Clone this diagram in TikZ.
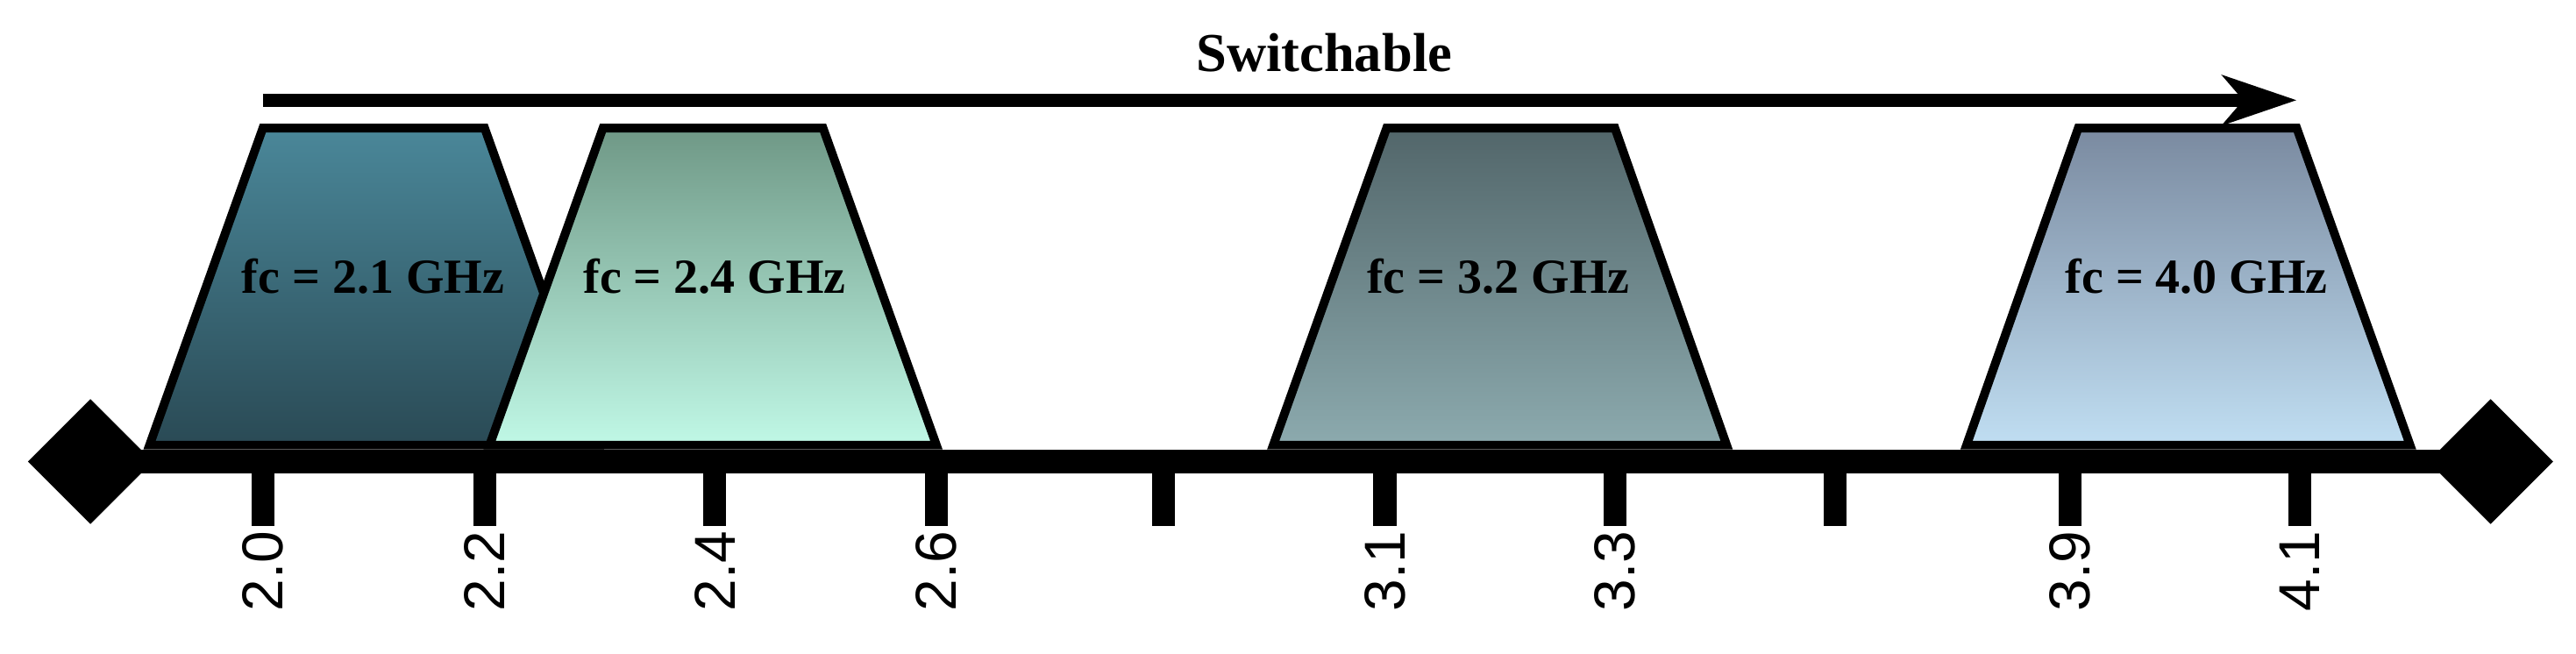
\documentclass[tikz,border=0pt]{standalone}
\usepackage{fontspec}
\setmainfont{Liberation Serif}
\newfontfamily\ticksf{Liberation Sans}
\usetikzlibrary{arrows.meta}
\definecolor{aT}{HTML}{4A8799}\definecolor{aB}{HTML}{2A4A55}
\definecolor{bT}{HTML}{6F9886}\definecolor{bB}{HTML}{C0F8E6}
\definecolor{cT}{HTML}{52666A}\definecolor{cB}{HTML}{8CAAAE}
\definecolor{dT}{HTML}{7A8AA0}\definecolor{dB}{HTML}{C0DEF2}
\tikzset{
 trap/.style={draw=black,line width=3pt,line join=miter},
 flabel/.style={font=\fontsize{17}{20}\selectfont\bfseries,inner sep=0pt},
 tick/.style={line width=14\pgflinewidth*0+0.28cm,line cap=butt},
 ticklab/.style={font=\ticksf\fontsize{20}{22}\selectfont,rotate=90,anchor=east,inner sep=0pt},
 dia/.style={fill=black}
}
\begin{document}
\begin{tikzpicture}[x=0.02cm,y=0.02cm]
\useasboundingbox (0,0) rectangle (1568,398);
% switchable arrow
\coordinate (sa) at (160,337);
\coordinate (sb) at (1398,337);
\draw[line width=0.16cm,-{Stealth[length=0.9cm,width=0.6cm,inset=0.25cm]}] (sa) -- (sb);
\node[flabel,font=\fontsize{19}{22}\selectfont\bfseries] (sw) at (806,366) {Switchable};
% trapezoids
\shade[top color=aT,bottom color=aB] (91,127) -- (160,320) -- (295,320) -- (330,222) -- (330,127) -- cycle;
\draw[trap,top color=aT,bottom color=aB] (91,127) -- (160,320) -- (295,320) -- (364,127) -- cycle;
\draw[trap,top color=bT,bottom color=bB] (298,127) -- (367,320) -- (501,320) -- (570,127) -- cycle;
\draw[trap,top color=cT,bottom color=cB] (775,127) -- (844,320) -- (983,320) -- (1051,127) -- cycle;
\draw[trap,top color=dT,bottom color=dB] (1197,127) -- (1265,320) -- (1398,320) -- (1467,127) -- cycle;
\node[flabel] (f1) at (227,230) {fc = 2.1 GHz};
\node[flabel] (f2) at (435,230) {fc = 2.4 GHz};
\node[flabel] (f3) at (912,230) {fc = 3.2 GHz};
\node[flabel] (f4) at (1337,230) {fc = 4.0 GHz};
% axis
\node[dia,minimum size=0cm,inner sep=0pt] (L) at (55,117) {};
\node[inner sep=0pt] (R) at (1516,117) {};
\fill (17,117) -- (55,155) -- (93,117) -- (55,79) -- cycle;
\fill (1478,117) -- (1516,155) -- (1554,117) -- (1516,79) -- cycle;
\draw[line width=0.28cm] (L) -- (R);
\foreach \x/\t in {160/2.0,295/2.2,435/2.4,570/2.6,708/,843/3.1,983/3.3,1117/,1260/3.9,1400/4.1}{
  \draw[line width=0.28cm] (\x,112) -- (\x,78);
  \node[ticklab] at (\x,75) {\t};
}
\end{tikzpicture}
\end{document}
